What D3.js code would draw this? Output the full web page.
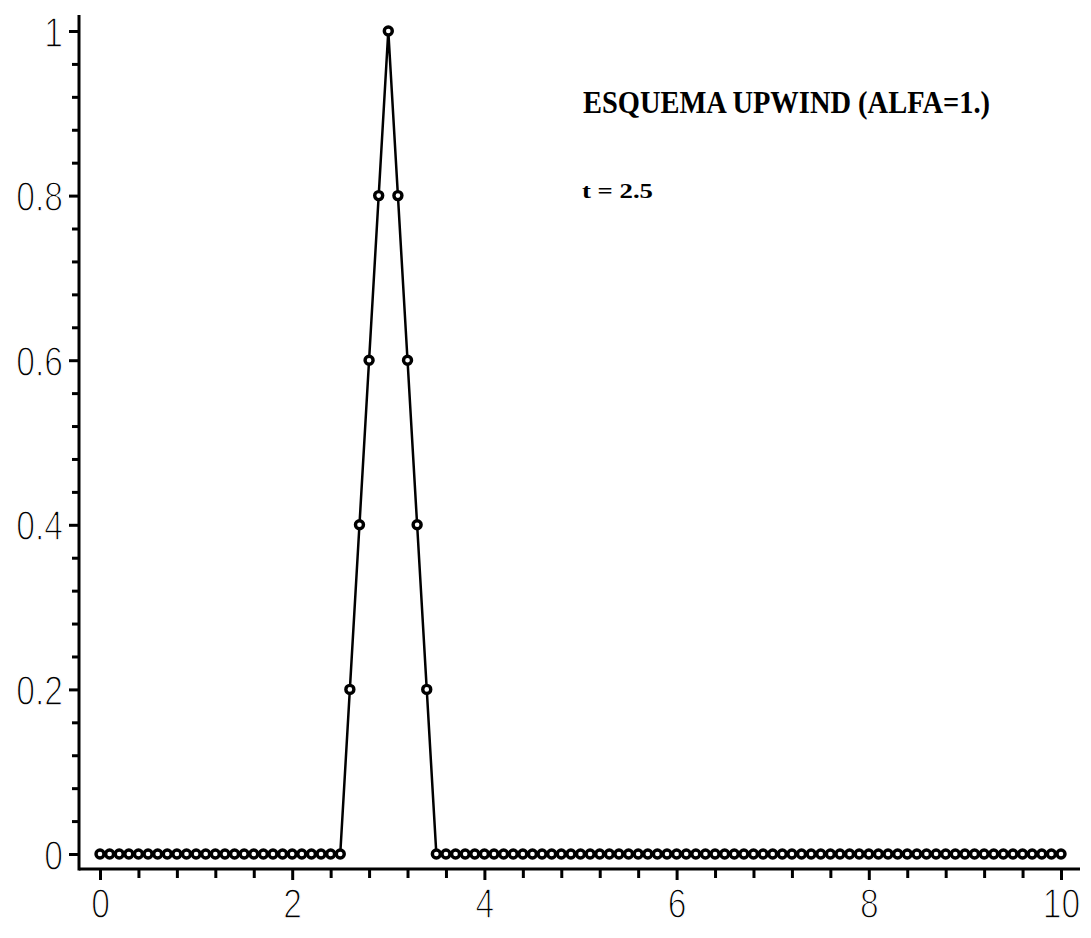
<!DOCTYPE html>
<html>
<head>
<meta charset="utf-8">
<script src="https://cdn.jsdelivr.net/npm/d3@7"></script>
<style>
  html, body { margin: 0; padding: 0; background: #fff; }
  svg { display: block; }
  .tick text { font-family: "Liberation Sans", Arial, sans-serif; font-size: 42px; fill: #000; font-weight: normal;
               stroke: #fff; stroke-width: 1.4px; paint-order: normal; }
</style>
</head>
<body>
<svg id="chart" width="1091" height="938"></svg>
<script>
// ---- data ----
const xValues = [
  0.0, 0.1, 0.2, 0.3, 0.4, 0.5, 0.6, 0.7, 0.8, 0.9,
  1.0, 1.1, 1.2, 1.3, 1.4, 1.5, 1.6, 1.7, 1.8, 1.9,
  2.0, 2.1, 2.2, 2.3, 2.4, 2.5, 2.6, 2.7, 2.8, 2.9,
  3.0, 3.1, 3.2, 3.3, 3.4, 3.5, 3.6, 3.7, 3.8, 3.9,
  4.0, 4.1, 4.2, 4.3, 4.4, 4.5, 4.6, 4.7, 4.8, 4.9,
  5.0, 5.1, 5.2, 5.3, 5.4, 5.5, 5.6, 5.7, 5.8, 5.9,
  6.0, 6.1, 6.2, 6.3, 6.4, 6.5, 6.6, 6.7, 6.8, 6.9,
  7.0, 7.1, 7.2, 7.3, 7.4, 7.5, 7.6, 7.7, 7.8, 7.9,
  8.0, 8.1, 8.2, 8.3, 8.4, 8.5, 8.6, 8.7, 8.8, 8.9,
  9.0, 9.1, 9.2, 9.3, 9.4, 9.5, 9.6, 9.7, 9.8, 9.9,
  10.0
];
const uValues = [
  0, 0, 0, 0, 0, 0, 0, 0, 0, 0,
  0, 0, 0, 0, 0, 0, 0, 0, 0, 0,
  0, 0, 0, 0, 0, 0, 0.2, 0.4, 0.6, 0.8,
  1, 0.8, 0.6, 0.4, 0.2, 0, 0, 0, 0, 0,
  0, 0, 0, 0, 0, 0, 0, 0, 0, 0,
  0, 0, 0, 0, 0, 0, 0, 0, 0, 0,
  0, 0, 0, 0, 0, 0, 0, 0, 0, 0,
  0, 0, 0, 0, 0, 0, 0, 0, 0, 0,
  0, 0, 0, 0, 0, 0, 0, 0, 0, 0,
  0, 0, 0, 0, 0, 0, 0, 0, 0, 0,
  0
];
const xMajorTicks = [0, 2, 4, 6, 8, 10];
const xMinorTicks = [0.4, 0.8, 1.2, 1.6, 2.4, 2.8, 3.2, 3.6, 4.4, 4.8, 5.2, 5.6, 6.4, 6.8, 7.2, 7.6, 8.4, 8.8, 9.2, 9.6];
const yMajorTicks = [0, 0.2, 0.4, 0.6, 0.8, 1];
const yMinorTicks = [0.04, 0.08, 0.12, 0.16, 0.24, 0.28, 0.32, 0.36, 0.44, 0.48, 0.52, 0.56, 0.64, 0.68, 0.72, 0.76, 0.84, 0.88, 0.92, 0.96];
const titleText = "ESQUEMA UPWIND (ALFA=1.)";
const timeText = "t = 2.5";

// ---- layout ----
const svg = d3.select("#chart");
const x = d3.scaleLinear().domain([0, 10]).range([100, 1061]);
const y = d3.scaleLinear().domain([0, 1]).range([854, 31]);
const axisX0 = 79, axisY0 = 869;
const squeeze = 0.8;

const fmt = d => d === 0 ? "0" : d3.format("")(d);

// minor ticks
svg.append("g").attr("transform", `translate(0,${axisY0})`)
  .call(d3.axisBottom(x).tickValues(xMinorTicks).tickSize(9).tickFormat(""))
  .call(g => g.select(".domain").remove())
  .call(g => g.selectAll("line").attr("stroke", "#000").attr("stroke-width", 3));
svg.append("g").attr("transform", `translate(${axisX0},0)`)
  .call(d3.axisLeft(y).tickValues(yMinorTicks).tickSize(7).tickFormat(""))
  .call(g => g.select(".domain").remove())
  .call(g => g.selectAll("line").attr("stroke", "#000").attr("stroke-width", 3));

// major ticks + labels
svg.append("g").attr("transform", `translate(0,${axisY0})`)
  .call(d3.axisBottom(x).tickValues(xMajorTicks).tickSize(11).tickPadding(8).tickFormat(fmt))
  .call(g => g.select(".domain").remove())
  .call(g => g.selectAll("line").attr("stroke", "#000").attr("stroke-width", 3))
  .call(g => g.selectAll("text").attr("transform", `scale(${squeeze},1)`));
svg.append("g").attr("transform", `translate(${axisX0},0)`)
  .call(d3.axisLeft(y).tickValues(yMajorTicks).tickSize(10).tickPadding(6).tickFormat(fmt))
  .call(g => g.select(".domain").remove())
  .call(g => g.selectAll("line").attr("stroke", "#000").attr("stroke-width", 3))
  .call(g => g.selectAll("text").attr("dy", "0.36em")
    .attr("x", -16 / squeeze).attr("transform", `scale(${squeeze},1)`));

// axis lines
svg.append("line").attr("x1", axisX0).attr("x2", 1080).attr("y1", axisY0).attr("y2", axisY0)
  .attr("stroke", "#000").attr("stroke-width", 3);
svg.append("line").attr("x1", axisX0).attr("x2", axisX0).attr("y1", 15).attr("y2", axisY0 + 1.5)
  .attr("stroke", "#000").attr("stroke-width", 3);

// data line
const pts = xValues.map((v, i) => [v, uValues[i]]);
svg.append("path")
  .attr("d", d3.line().x(d => x(d[0])).y(d => y(d[1]))(pts))
  .attr("fill", "none").attr("stroke", "#000").attr("stroke-width", 2.5);

// markers
svg.append("g").selectAll("circle").data(pts).join("circle")
  .attr("cx", d => x(d[0])).attr("cy", d => y(d[1]))
  .attr("r", 4).attr("fill", "#fff").attr("stroke", "#000").attr("stroke-width", 3.4);

// annotations
svg.append("text").attr("x", 583).attr("y", 113)
  .attr("font-family", "'Liberation Serif', 'DejaVu Serif', serif").attr("font-weight", "bold")
  .attr("font-size", 31).attr("textLength", 407).attr("lengthAdjust", "spacingAndGlyphs")
  .text(titleText);
svg.append("text").attr("x", 582).attr("y", 198)
  .attr("font-family", "'Liberation Serif', 'DejaVu Serif', serif").attr("font-weight", "bold")
  .attr("font-size", 22).attr("textLength", 71).attr("lengthAdjust", "spacingAndGlyphs")
  .text(timeText);
</script>
</body>
</html>
